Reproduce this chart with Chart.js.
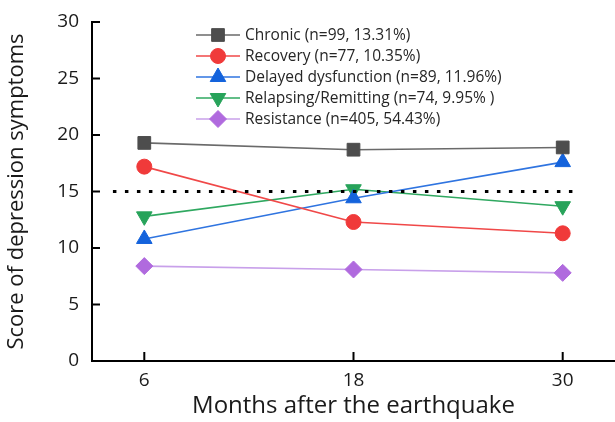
<!DOCTYPE html>
<html>
<head>
<meta charset="utf-8">
<script src="https://cdn.jsdelivr.net/npm/chart.js@4/dist/chart.umd.min.js"></script>
<style>
  html, body { margin: 0; padding: 0; background: #fff; }
  #wrap { width: 615px; height: 422px; }
</style>
</head>
<body>
<div id="wrap"><canvas id="chart" width="615" height="422"></canvas></div>
<script>
// data
const months = [6, 18, 30];
const chronic = [19.3, 18.7, 18.9];
const recovery = [17.2, 12.3, 11.3];
const delayed = [10.8, 14.4, 17.6];
const relapsing = [12.8, 15.2, 13.7];
const resistance = [8.4, 8.1, 7.8];
const cutoffX = [4.2, 30.9];
const cutoffY = [15, 15];
const yTicks = [0, 5, 10, 15, 20, 25, 30];

const seriesNames = [
    'Chronic (n=99, 13.31%)',
    'Recovery (n=77, 10.35%)',
    'Delayed dysfunction (n=89, 11.96%)',
    'Relapsing/Remitting (n=74, 9.95% )',
    'Resistance (n=405, 54.43%)'
];

const FONT = '"Open Sans", sans-serif';

function pts(xs, ys) {
    return xs.map((x, i) => ({ x: x, y: ys[i] }));
}

function series(label, values, lineColor, markColor, style, radius, rotation) {
    return {
        label: label,
        data: pts(months, values),
        borderColor: lineColor,
        backgroundColor: markColor,
        pointBorderColor: markColor,
        pointBackgroundColor: markColor,
        pointStyle: style,
        pointRadius: radius,
        pointRotation: rotation || 0,
        borderWidth: 1.6,
        pointBorderWidth: 1,
        tension: 0
    };
}

const datasets = [
    {
        label: 'cutoff',
        data: pts(cutoffX, cutoffY),
        borderColor: '#000',
        borderWidth: 2.8,
        borderDash: [3.5, 8.5],
        pointRadius: 0,
        inLegend: false
    },
    series(seriesNames[0], chronic, '#6a6a6a', '#4d4d4d', 'rect', 9),
    series(seriesNames[1], recovery, '#f04848', '#f03a3a', 'circle', 7.5),
    series(seriesNames[2], delayed, '#2f74e0', '#1463dc', 'triangle', 9),
    series(seriesNames[3], relapsing, '#2fa860', '#27a35a', 'triangle', 9, 180),
    series(seriesNames[4], resistance, '#c8a0ea', '#b06ade', 'rectRot', 8.5)
];

// legend drawn inside the plot area, top left
const insideLegend = {
    id: 'insideLegend',
    afterDraw(chart) {
        const ctx = chart.ctx;
        const x0 = 196, x1 = 240, y0 = 35, step = 21;
        let row = 0;
        chart.data.datasets.forEach(ds => {
            if (ds.inLegend === false) return;
            const y = y0 + row * step;
            ctx.save();
            ctx.strokeStyle = ds.borderColor;
            ctx.lineWidth = 1.6;
            ctx.beginPath();
            ctx.moveTo(x0, y);
            ctx.lineTo(x1, y);
            ctx.stroke();
            ctx.fillStyle = ds.pointBackgroundColor;
            ctx.strokeStyle = ds.pointBorderColor;
            ctx.lineWidth = 1;
            Chart.helpers.drawPoint(ctx, {
                pointStyle: ds.pointStyle,
                rotation: ds.pointRotation,
                radius: ds.pointRadius,
                borderWidth: 1
            }, (x0 + x1) / 2, y);
            ctx.fillStyle = '#262626';
            ctx.font = '15.5px ' + FONT;
            ctx.textBaseline = 'middle';
            ctx.fillText(ds.label, x1 + 5, y + 1);
            ctx.restore();
            row++;
        });
    }
};

// tick marks pointing into the plot
const innerTicks = {
    id: 'innerTicks',
    afterDatasetsDraw(chart) {
        const ctx = chart.ctx;
        const xs = chart.scales.x, ys = chart.scales.y;
        const area = chart.chartArea;
        ctx.save();
        ctx.strokeStyle = '#000';
        ctx.lineWidth = 2;
        ys.ticks.forEach(t => {
            const y = ys.getPixelForValue(t.value);
            ctx.beginPath();
            ctx.moveTo(area.left, y);
            ctx.lineTo(area.left + 8, y);
            ctx.stroke();
        });
        xs.ticks.forEach(t => {
            const x = xs.getPixelForValue(t.value);
            ctx.beginPath();
            ctx.moveTo(x, area.bottom);
            ctx.lineTo(x, area.bottom - 9);
            ctx.stroke();
        });
        ctx.restore();
    }
};

new Chart(document.getElementById('chart'), {
    type: 'line',
    data: { datasets: datasets },
    options: {
        responsive: false,
        animation: false,
        layout: { autoPadding: false, padding: { top: 22, right: 0, left: 0, bottom: 0 } },
        plugins: {
            legend: { display: false },
            tooltip: { enabled: false }
        },
        scales: {
            x: {
                type: 'linear',
                min: 3,
                max: 33,
                afterBuildTicks: scale => { scale.ticks = months.map(v => ({ value: v })); },
                afterFit: scale => {
                    scale.height = 61;
                    scale.paddingLeft = 0;
                    scale.paddingRight = 0;
                },
                grid: { drawOnChartArea: false, drawTicks: false },
                border: { color: '#000', width: 2 },
                ticks: { color: '#1a1a1a', font: { family: FONT, size: 19 }, padding: 8 },
                title: {
                    display: true,
                    text: 'Months after the earthquake',
                    color: '#1a1a1a',
                    font: { family: FONT, size: 24 },
                    padding: { top: 0, bottom: 1 }
                }
            },
            y: {
                min: 0,
                max: 30,
                afterBuildTicks: scale => { scale.ticks = yTicks.map(v => ({ value: v })); },
                afterFit: scale => {
                    scale.width = 92;
                    scale.paddingTop = 0;
                    scale.paddingBottom = 0;
                },
                grid: { drawOnChartArea: false, drawTicks: false },
                border: { color: '#000', width: 2 },
                ticks: { color: '#1a1a1a', font: { family: FONT, size: 19 }, padding: 13 },
                title: {
                    display: true,
                    text: 'Score of depression symptoms',
                    color: '#1a1a1a',
                    font: { family: FONT, size: 22 },
                    padding: { top: 4, bottom: 0 }
                }
            }
        }
    },
    plugins: [insideLegend, innerTicks]
});
</script>
</body>
</html>
